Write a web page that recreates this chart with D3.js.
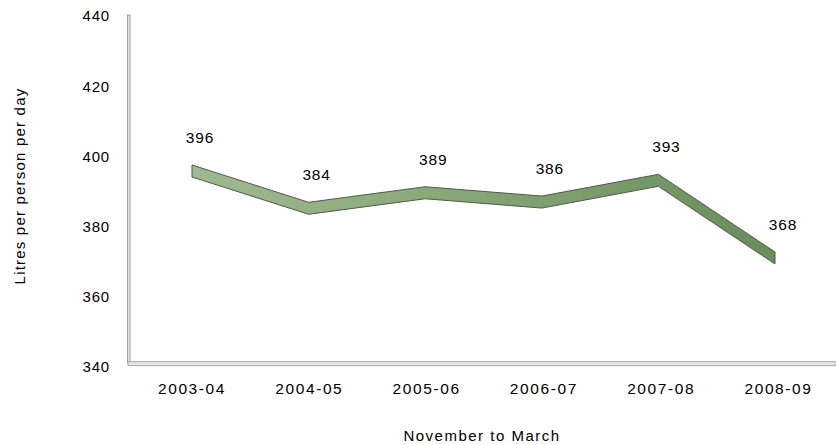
<!DOCTYPE html>
<html>
<head>
<meta charset="utf-8">
<script src="https://cdn.jsdelivr.net/npm/d3@7"></script>
<style>
  body { margin: 0; background: #fff; }
  svg text { font-family: "Liberation Sans", Arial, sans-serif; fill: #000; }
</style>
</head>
<body>
<div id="chart"></div>
<script>
// water use, litres per person per day (Nov-Mar)
var seasons = ["2003-04", "2004-05", "2005-06", "2006-07", "2007-08", "2008-09"];
var litres = [396, 384, 389, 386, 393, 368];
var yTicks = [340, 360, 380, 400, 420, 440];

var width = 836, height = 445;

var svg = d3.select("#chart").append("svg")
    .attr("width", width)
    .attr("height", height);

// front plane (axis labels)
var x = d3.scalePoint().domain(seasons).range([191.5, 778]);
var y = d3.scaleLinear().domain([340, 440]).range([367, 16]);

// back plane, where the 3d ribbon sits (perspective is a bit smaller)
var xR = d3.scalePoint().domain(seasons).range([192, 775]);
var yR = d3.scaleLinear().domain([340, 440]).range([345, 34.3]);

var defs = svg.append("defs");
var grad = defs.append("linearGradient")
    .attr("id", "ribbonFill")
    .attr("gradientUnits", "userSpaceOnUse")
    .attr("x1", xR.range()[0]).attr("x2", xR.range()[1])
    .attr("y1", 0).attr("y2", 0);
grad.append("stop").attr("offset", "0%").attr("stop-color", "#a0b98f");
grad.append("stop").attr("offset", "50%").attr("stop-color", "#84a574");
grad.append("stop").attr("offset", "100%").attr("stop-color", "#678f5a");

// walls / floor edges
svg.append("rect")
    .attr("x", 127.5).attr("y", 15)
    .attr("width", 2.5).attr("height", 348)
    .attr("fill", "#e2e2e2")
    .attr("stroke", "#8e8e8e")
    .attr("stroke-width", 0.8);

svg.append("rect")
    .attr("x", 128).attr("y", 361.7)
    .attr("width", width - 128).attr("height", 4)
    .attr("fill", "#e6e6e6")
    .attr("stroke", "#999")
    .attr("stroke-width", 0.8);

// y axis labels
var yAxis = d3.axisLeft(y).tickValues(yTicks).tickSize(0).tickPadding(18);
var gy = svg.append("g")
    .attr("transform", "translate(128,0)")
    .call(yAxis);
gy.select(".domain").remove();
gy.selectAll("text")
    .style("font-size", "15px")
    .attr("fill", "#000")
    .style("letter-spacing", "0.8px");

// x axis labels
var xAxis = d3.axisBottom(x).tickSize(0).tickPadding(0);
var gx = svg.append("g")
    .attr("transform", "translate(0,383)")
    .call(xAxis);
gx.select(".domain").remove();
gx.selectAll("text")
    .style("font-size", "15.5px")
    .attr("fill", "#000")
    .style("letter-spacing", "1.6px");

// ribbon (3d line) as a band of constant vertical thickness
var half = 6;
var pts = seasons.map(function(s, i){ return [xR(s), yR(litres[i])]; });
var band = pts.map(function(p){ return [p[0], p[1] - half]; })
    .concat(pts.slice().reverse().map(function(p){ return [p[0], p[1] + half]; }));

svg.append("path")
    .datum(band)
    .attr("d", d3.line().curve(d3.curveLinearClosed))
    .attr("fill", "url(#ribbonFill)")
    .attr("stroke", "#4f5a4a")
    .attr("stroke-width", 1)
    .attr("stroke-linejoin", "round");

// data labels
svg.selectAll(".lbl")
    .data(litres)
    .enter().append("text")
    .attr("class", "lbl")
    .attr("x", function(d, i){ return xR(seasons[i]) + 8; })
    .attr("y", function(d){ return yR(d) - 28; })
    .attr("text-anchor", "middle")
    .style("font-size", "15.5px")
    .style("letter-spacing", "0.8px")
    .text(function(d){ return d; });

// axis titles
svg.append("text")
    .attr("transform", "translate(25,186) rotate(-90)")
    .attr("text-anchor", "middle")
    .style("font-size", "15px")
    .style("letter-spacing", "1.2px")
    .text("Litres per person per day");

svg.append("text")
    .attr("x", 482)
    .attr("y", 441)
    .attr("text-anchor", "middle")
    .style("font-size", "15px")
    .style("letter-spacing", "1.5px")
    .text("November to March");
</script>
</body>
</html>
